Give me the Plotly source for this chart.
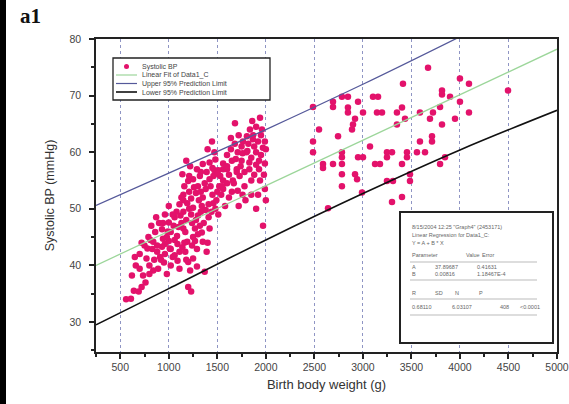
import plotly.graph_objects as go

# ---------------- data ----------------
bw_left = [560, 610, 640, 690, 720, 620, 660, 700, 735, 770, 800, 840, 760,
           860, 840, 830, 880, 930, 940, 930, 910, 890, 1000, 1020, 1000, 1020, 1040, 1020,
           700, 750, 790, 820, 870, 900, 960, 980, 960, 950, 980, 650, 720, 780, 800,
           1085, 1090, 1110, 1090, 1110, 1170, 1190, 1170, 1200, 1220, 1200, 1230, 1270, 1290,
           1250, 1290, 1350, 1390, 1370, 1000, 1110, 1150, 1210, 1310, 1380, 1460, 1060, 1130,
           1180, 1240, 1270, 1320, 1300, 1230, 1150, 1050, 1420, 1400, 1250, 1340,
           1140, 1200, 1250, 1320, 1150, 1210, 1280, 1350, 1340, 1250, 1190, 1150, 1390, 1460,
           1530, 1560, 1350, 1420, 1480, 1470, 1300, 1380, 1430, 1500, 1450, 1290, 1220, 1180,
           1410, 1490, 1540, 1400, 1445, 1520, 1560,
           1580, 1650, 1710, 1760, 1850, 1920, 1720, 1790, 1900, 1990, 1971, 1682, 1940, 1836,
           1805, 1764, 1867, 1919, 1990, 1560, 1600, 1650, 1710, 1700, 1750, 1800, 1850, 1900,
           1950, 1990, 1730, 1780, 1830, 1880, 1930, 1980, 1620, 1660, 1750, 1820, 1880, 1950,
           1900, 1860, 1960, 1600, 1680, 1780, 1850, 1940, 2000, 2000, 1720, 1640, 1600, 1690,
           1760, 1830, 1900, 1970, 1640, 1700, 1810, 1870, 1930, 1670, 1740, 1620, 1560, 1510,
           880, 920, 960, 1010, 1060, 1100, 1140, 1180, 1060, 1120, 1160, 1240, 1280, 1330,
           1300, 1360, 1410, 1440, 1480, 1510, 1370, 1420, 1470, 1330, 1260, 1210, 1160, 1080,
           990, 940, 850, 810, 1040, 1130, 1230, 1330, 1450, 1500, 1550, 1600]
sbp_left = [34.0, 34.1, 35.5, 35.4, 36.2, 38.2, 40.0, 39.4, 38.2, 41.2, 40.0, 39.1, 37.0,
            45.9, 44.2, 42.9, 42.4, 46.4, 44.7, 43.3, 41.5, 39.4, 47.6, 45.9, 44.3, 42.9, 41.5, 40.0,
            42.0, 43.5, 45.0, 47.0, 48.5, 47.5, 49.0, 45.0, 42.0, 40.5, 38.5, 41.5, 44.0, 43.0, 38.5,
            45.2, 43.8, 42.4, 40.8, 39.4, 45.9, 44.2, 42.4, 40.6, 39.1, 36.2, 35.4, 44.3, 42.9,
            41.2, 39.8, 44.2, 42.4, 38.9, 50.5, 50.8, 49.5, 50.0, 51.5, 49.8, 51.0, 48.5, 47.5,
            48.0, 47.5, 46.5, 47.0, 48.8, 49.0, 46.5, 47.0, 46.5, 44.0, 45.0, 45.8,
            56.1, 54.9, 55.2, 55.8, 52.5, 53.0, 52.8, 52.0, 50.5, 50.2, 51.0, 51.5, 56.5, 55.8,
            55.8, 57.0, 57.9, 58.2, 58.7, 60.0, 54.0, 53.5, 54.0, 53.0, 52.5, 57.0, 57.5, 58.5,
            50.8, 51.5, 52.5, 60.5, 61.9, 54.0, 55.0,
            50.5, 53.0, 53.2, 52.5, 52.5, 52.5, 50.5, 51.5, 50.0, 53.5, 47.0, 65.1, 66.1, 64.0,
            62.8, 61.9, 62.3, 61.9, 61.9, 58.0, 59.5, 58.5, 60.0, 57.0, 58.5, 60.0, 59.0, 60.0,
            59.5, 58.0, 55.8, 56.5, 57.0, 56.0, 57.0, 56.0, 56.0, 55.0, 61.0, 61.5, 61.0, 63.0,
            64.5, 65.5, 64.0, 54.5, 61.5, 54.0, 55.0, 55.0, 60.5, 51.5, 63.0, 60.5, 57.0, 58.8,
            59.8, 58.2, 57.8, 60.8, 62.5, 56.5, 60.2, 63.0, 58.5, 54.5, 57.5, 52.0, 53.5, 56.8,
            43.5, 41.0, 43.8, 43.0, 44.5, 46.8, 43.2, 41.0, 41.8, 48.8, 44.0, 43.5, 48.0, 49.5,
            45.5, 47.5, 48.5, 49.5, 50.0, 49.0, 54.5, 55.2, 56.8, 53.0, 53.8, 55.8, 54.0, 49.5,
            46.0, 47.5, 41.0, 44.5, 49.0, 52.0, 51.8, 56.5, 57.2, 56.2, 54.0, 57.5]

bw_right = [3671, 4000, 4093, 4495, 3413, 3815, 3815, 3898, 2486, 2692, 2692, 2784, 2846,
            2950, 3104, 3156, 2846, 2846, 3001, 3145, 3197, 3351, 3403, 3588, 3722, 3795, 4000,
            4093, 2919, 2898, 2888, 3351, 3434, 3691, 3815, 3949, 2548, 2744, 2486, 2486, 3712,
            3712, 3588, 3073, 2784, 2784, 2784, 2950, 3001, 3248, 3300, 3248, 3454, 3454, 3557,
            3640, 3846, 3795, 2589, 2589, 2692, 3125, 3176, 3403, 2784, 2919, 2940, 3248, 3310,
            3485, 3485, 2784, 2991, 3403, 3300, 2641]
sbp_right = [74.9, 73.0, 72.1, 70.9, 72.1, 70.9, 70.2, 69.8, 68.0, 68.9, 68.0, 69.8, 69.8,
             68.9, 69.8, 69.8, 67.9, 67.0, 67.0, 67.0, 67.0, 67.0, 67.9, 67.0, 67.0, 68.0, 68.9,
             67.0, 65.9, 64.9, 64.0, 64.9, 65.9, 65.9, 64.9, 65.9, 64.0, 62.8, 61.9, 60.0, 62.8,
             61.9, 61.9, 61.0, 60.0, 59.1, 57.9, 59.1, 59.1, 60.0, 60.0, 59.1, 60.0, 59.1, 60.0,
             60.0, 59.1, 57.9, 57.9, 57.2, 57.9, 57.9, 57.9, 57.9, 56.1, 56.1, 55.2, 54.9, 54.9,
             56.1, 54.9, 54.0, 52.9, 52.1, 51.2, 50.1]

fit_x = [250, 5000]
fit_y = [40.0, 78.2]
upper_x = [250, 1000, 2000, 3000, 4000]
upper_y = [50.6, 56.3, 64.0, 72.0, 80.4]
lower_x = [250, 1000, 2000, 3000, 4000, 5000]
lower_y = [29.5, 35.9, 44.5, 52.7, 60.4, 67.4]

x_ticks = [500, 1000, 1500, 2000, 2500, 3000, 3500, 4000, 4500, 5000]
y_ticks = [30, 40, 50, 60, 70, 80]

legend_names = ["Systolic BP", "Linear Fit of Data1_C",
                "Upper 95% Prediction Limit", "Lower 95% Prediction Limit"]

# ---------------- geometry helpers (pixels -> paper) ----------------
W, H = 569, 404
L, R, T, B = 96, 557, 39, 352
def px(x):
    return (x - L) / (R - L)
def py(y):
    return (B - y) / (B - T)

PINK = "#e3126b"
GREEN = "#9cd69a"
BLUE = "#55599a"
BLACK = "#111111"

fig = go.Figure()
fig.add_trace(go.Scatter(
    x=bw_left + bw_right, y=sbp_left + sbp_right, mode="markers", name=legend_names[0],
    marker=dict(color=PINK, size=6.5, line=dict(width=0))))
fig.add_trace(go.Scatter(x=fit_x, y=fit_y, mode="lines", name=legend_names[1],
                         line=dict(color=GREEN, width=1.3)))
fig.add_trace(go.Scatter(x=upper_x, y=upper_y, mode="lines", name=legend_names[2],
                         line=dict(color=BLUE, width=1.3, shape="spline")))
fig.add_trace(go.Scatter(x=lower_x, y=lower_y, mode="lines", name=legend_names[3],
                         line=dict(color=BLACK, width=1.6, shape="spline")))

fig.update_layout(
    width=W, height=H,
    margin=dict(l=L, r=W - R, t=T, b=H - B, pad=0, autoexpand=False),
    paper_bgcolor="white", plot_bgcolor="white",
    font=dict(family="Liberation Sans, Arial, sans-serif", color="#333333"),
    showlegend=False,
)
fig.update_xaxes(
    range=[250, 5000], tickvals=x_ticks, ticks="outside", ticklen=5, tickwidth=1.5,
    tickcolor="#222222", showline=True, linecolor="#222222", linewidth=1.5, mirror=True,
    showgrid=True, gridcolor="#8f95c4", griddash="dot", gridwidth=1, automargin=False,
    minor=dict(dtick=250, tick0=250, ticks="outside", ticklen=3, tickcolor="#222222", showgrid=False),
    tickfont=dict(size=10.5, color="#444444"), zeroline=False,
    title=dict(text="Birth body weight (g)", font=dict(size=13, color="#333333"), standoff=8),
)
fig.update_yaxes(
    range=[24.7, 80], tickvals=y_ticks, ticks="outside", ticklen=5, tickwidth=1.5,
    tickcolor="#222222", showline=True, linecolor="#222222", linewidth=1.5, mirror=True,
    showgrid=False, zeroline=False, automargin=False,
    minor=dict(dtick=5, tick0=25, ticks="outside", ticklen=3, tickcolor="#222222", showgrid=False),
    tickfont=dict(size=10.5, color="#444444"), ticklabelstandoff=6,
    title=dict(text="Systolic BP (mmHg)", font=dict(size=12.5, color="#333333"), standoff=12),
)

shapes = []
annotations = []
# black strip at the left edge of the picture
shapes.append(dict(type="rect", xref="paper", yref="paper", x0=px(0), x1=px(6), y0=py(H), y1=py(0),
                   fillcolor="black", line=dict(width=0), layer="above"))
# panel label
annotations.append(dict(text="<b>a1</b>", xref="paper", yref="paper", x=px(18), y=py(16),
                        xanchor="left", yanchor="middle", showarrow=False,
                        font=dict(family="Liberation Serif, Times New Roman, serif", size=21, color="#111111")))

# legend box (drawn by hand so it can be as compact as the original)
shapes.append(dict(type="rect", xref="paper", yref="paper", x0=px(113), x1=px(270), y0=py(100), y1=py(58),
                   fillcolor="white", line=dict(color="#222222", width=1.3), layer="above"))
leg_rows = [66.5, 75, 83.5, 92]
shapes.append(dict(type="circle", xref="paper", yref="paper",
                   x0=px(124), x1=px(129), y0=py(leg_rows[0] + 2.5), y1=py(leg_rows[0] - 2.5),
                   fillcolor=PINK, line=dict(width=0), layer="above"))
for row, col, wdt in zip(leg_rows[1:], [GREEN, BLUE, BLACK], [1.2, 1.2, 1.6]):
    shapes.append(dict(type="line", xref="paper", yref="paper", x0=px(116), x1=px(137),
                       y0=py(row), y1=py(row), line=dict(color=col, width=wdt), layer="above"))
for row, name in zip(leg_rows, legend_names):
    annotations.append(dict(text=name, xref="paper", yref="paper", x=px(140), y=py(row),
                            xanchor="left", yanchor="middle", showarrow=False,
                            font=dict(size=7, color="#444444")))

# regression results box
shapes.append(dict(type="rect", xref="paper", yref="paper", x0=px(400), x1=px(553), y0=py(343), y1=py(212),
                   fillcolor="white", line=dict(color="#222222", width=2), layer="above"))
for yy in [262, 280, 299, 315]:
    shapes.append(dict(type="line", xref="paper", yref="paper", x0=px(410), x1=px(537), y0=py(yy), y1=py(yy),
                       line=dict(color="#aaaaaa", width=0.8), layer="above"))
box_text = [
    (410, 227, '8/15/2004 12:25 "Graph4" (2453171)'),
    (410, 235, "Linear Regression for Data1_C:"),
    (410, 243, "Y = A + B * X"),
    (410, 255, "Parameter"), (464, 255, "Value"), (480, 255, "Error"),
    (410, 267, "A"), (433, 267, "37.89687"), (475, 267, "0.41631"),
    (410, 274, "B"), (433, 274, "0.00816"), (475, 274, "1.18467E-4"),
    (410, 293, "R"), (433, 293, "SD"), (453, 293, "N"), (477, 293, "P"),
    (410, 307, "0.68110"), (450, 307, "6.03107"), (498, 307, "408"), (518, 307, "<0.0001"),
]
for x0, y0, t in box_text:
    annotations.append(dict(text=t, xref="paper", yref="paper", x=px(x0), y=py(y0),
                            xanchor="left", yanchor="middle", showarrow=False,
                            font=dict(size=5.5, color="#666666")))
fig.update_layout(shapes=shapes, annotations=annotations)

fig.write_html("out.html")
